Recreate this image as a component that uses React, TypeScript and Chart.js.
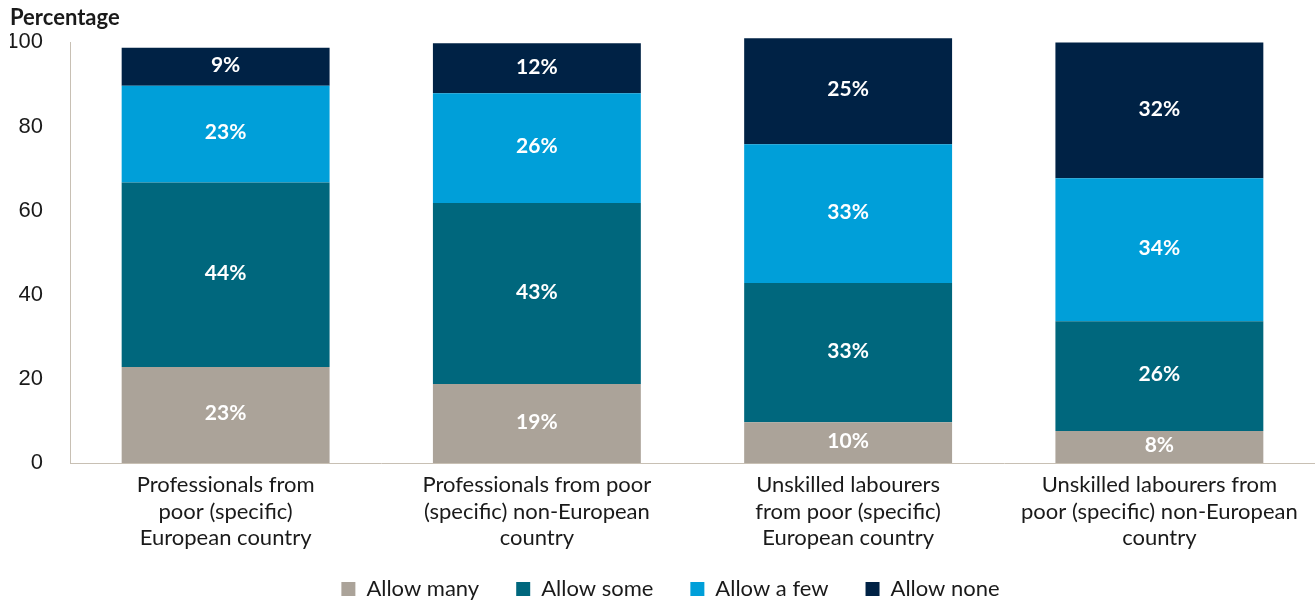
import { useEffect, useRef } from 'react';
import { Chart, registerables } from 'chart.js';

Chart.register(...registerables);

const categories: string[][] = [
  ['Professionals from', 'poor (specific)', 'European country'],
  ['Professionals from poor', '(specific) non-European', 'country'],
  ['Unskilled labourers', 'from poor (specific)', 'European country'],
  ['Unskilled labourers from', 'poor (specific) non-European', 'country'],
];
const seriesNames = ['Allow many', 'Allow some', 'Allow a few', 'Allow none'];
const allowMany = [22.8, 18.8, 9.7, 7.6];
const allowSome = [43.9, 43.0, 33.1, 26.1];
const allowFew = [23.0, 26.1, 33.0, 34.0];
const allowNone = [9.0, 11.9, 25.2, 32.3];
const seriesColors = ['#aba399', '#00677d', '#009fd9', '#002245'];
const yMin = 0;
const yMax = 100;
const yStep = 20;

const FONT = 'Lato, "Noto Sans", sans-serif';
const TICK_FONT = '"Liberation Sans", Arial, sans-serif';

const labelPlugin = {
  id: 'segLabels',
  afterLayout(chart: any) {
    // nudge the legend closer to the category labels and centre it like the reference
    const lg = chart.legend;
    if (lg) {
      lg.top -= 13;
      lg.bottom -= 13;
      lg.left += 8;
      lg.right += 8;
    }
  },
  afterDatasetsDraw(chart: any) {
    const ctx = chart.ctx;
    ctx.save();
    ctx.fillStyle = '#ffffff';
    ctx.textAlign = 'center';
    ctx.textBaseline = 'middle';
    ctx.font = `bold 21px ${FONT}`;
    chart.data.datasets.forEach((ds: any, di: number) => {
      const meta = chart.getDatasetMeta(di);
      meta.data.forEach((el: any, i: number) => {
        const v = ds.data[i];
        const cy = (el.y + el.base) / 2;
        ctx.fillText(`${Math.round(v)}%`, el.x, cy - 1.5);
      });
    });
    ctx.restore();
  },
};

export default function App() {
  const ref = useRef<HTMLCanvasElement | null>(null);
  useEffect(() => {
    if (!ref.current) return;
    const values = [allowMany, allowSome, allowFew, allowNone];
    const chart = new Chart(ref.current, {
      type: 'bar',
      data: {
        labels: categories,
        datasets: values.map((d, i) => ({
          label: seriesNames[i],
          data: d,
          backgroundColor: seriesColors[i],
          borderWidth: 0,
          barPercentage: 0.668,
          categoryPercentage: 1,
          clip: false as any,
        })),
      },
      options: {
        animation: false,
        responsive: true,
        maintainAspectRatio: false,
        layout: { padding: { left: 10, right: 0, top: 0, bottom: -21 } },
        plugins: {
          title: {
            display: true,
            text: 'Percentage',
            align: 'start',
            color: '#1a1a1a',
            font: { family: FONT, size: 22, weight: 'bold' },
            padding: { top: 5, bottom: 11 },
          },
          legend: {
            position: 'bottom',
            labels: {
              boxWidth: 14,
              boxHeight: 14,
              padding: 37,
              color: '#1a1a1a',
              font: { family: FONT, size: 22 },
            },
          },
          tooltip: { enabled: false },
        },
        scales: {
          x: {
            stacked: true,
            grid: { display: false, drawTicks: false },
            border: { display: true, color: '#c8c0b4', width: 1 },
            ticks: {
              color: '#1a1a1a',
              font: { family: FONT, size: 22, lineHeight: 1.2 },
              padding: 9,
              maxRotation: 0,
              autoSkip: false,
            },
            afterFit: (s: any) => {
              s.height = 91;
            },
          },
          y: {
            stacked: true,
            min: yMin,
            max: yMax,
            grid: { display: false, drawTicks: false },
            border: { display: true, color: '#c8c0b4', width: 1 },
            ticks: {
              stepSize: yStep,
              color: '#1a1a1a',
              font: { family: TICK_FONT, size: 22 },
              padding: 27,
            },
            afterFit: (s: any) => {
              s.width = 60;
            },
          },
        },
      },
      plugins: [labelPlugin],
    });
    return () => chart.destroy();
  }, []);
  return (
    <div style={{ position: 'absolute', left: 0, top: 0, width: 1315, height: 602 }}>
      <canvas ref={ref} />
    </div>
  );
}
